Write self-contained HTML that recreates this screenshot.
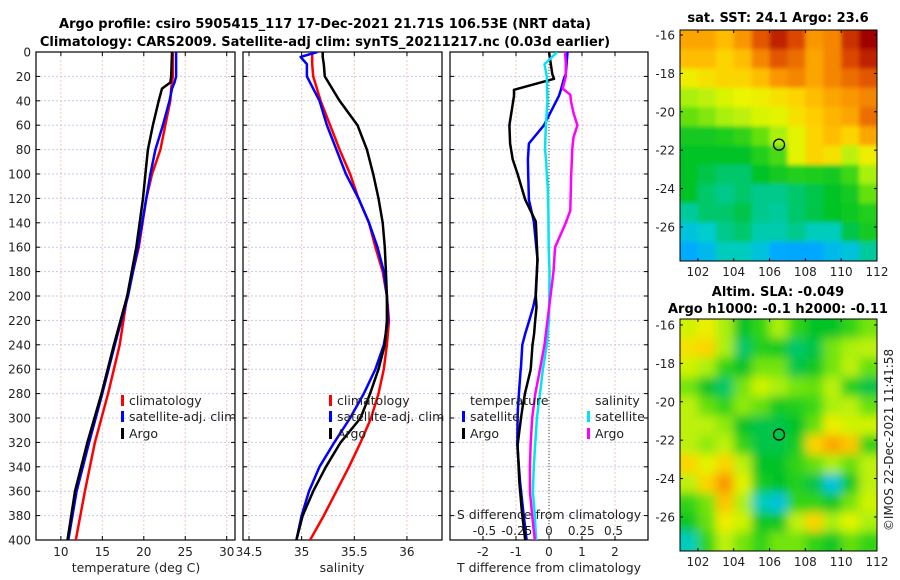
<!DOCTYPE html>
<html><head><meta charset="utf-8"><style>
html,body{margin:0;padding:0;background:#fff}
svg{display:block;font-family:"DejaVu Sans","Liberation Sans",sans-serif}
</style></head><body>
<svg id="fig" width="900" height="580" viewBox="0 0 900 580">
<defs>
<clipPath id="c1"><rect x="36" y="52" width="199" height="488"/></clipPath>
<clipPath id="c2"><rect x="243" y="52" width="199" height="488"/></clipPath>
<clipPath id="c3"><rect x="450" y="52" width="198" height="488"/></clipPath>
<clipPath id="cm1"><rect x="680" y="30" width="197" height="231"/></clipPath>
<clipPath id="cm2"><rect x="680" y="319" width="197" height="232"/></clipPath>
<filter id="blur1"><feGaussianBlur stdDeviation="2"/></filter>
<filter id="blur2"><feGaussianBlur stdDeviation="5"/></filter>
</defs>
<text x="325" y="28" text-anchor="middle" font-weight="bold" font-size="13">Argo profile: csiro 5905415_117 17-Dec-2021 21.71S 106.53E (NRT data)</text>
<text x="325" y="46" text-anchor="middle" font-weight="bold" font-size="13">Climatology: CARS2009. Satellite-adj clim: synTS_20211217.nc (0.03d earlier)</text>
<text x="778" y="22" text-anchor="middle" font-weight="bold" font-size="13">sat. SST: 24.1 Argo: 23.6</text>
<text x="778" y="296" text-anchor="middle" font-weight="bold" font-size="13">Altim. SLA: -0.049</text>
<text x="778" y="313" text-anchor="middle" font-weight="bold" font-size="13">Argo h1000: -0.1 h2000: -0.11</text>
<text transform="translate(893,440) rotate(-90)" text-anchor="middle" font-size="12" fill="#222">©IMOS 22-Dec-2021 11:41:58</text>
<g id="g"></g>
</svg>
<script>
const NS="http://www.w3.org/2000/svg";
const depthTicks=[0,20,40,60,80,100,120,140,160,180,200,220,240,260,280,300,320,340,360,380,400];
const tTicks=[10,15,20,25,30];
const sTicks=[34.5,35,35.5,36];
const sTickLabels=["34.5","35","35.5","36"];
const dTTicks=[-2,-1,0,1,2];
const dSTicks=[-0.5,-0.25,0,0.25,0.5];
const dSTickLabels=["-0.5","-0.25","0","0.25","0.5"];
const lonTicks=[102,104,106,108,110,112];
const latTicks=[-16,-18,-20,-22,-24,-26];

const tempDepth=[0,20,25,30,40,60,80,100,120,160,200,240,280,320,360,400];
const tempClim=[23.5,23.5,23.4,23.3,23.2,22.6,22.0,21.0,20.3,19.4,18.0,17.1,15.7,14.1,12.9,11.8];
const tempSat=[23.9,23.9,23.7,23.4,23.1,22.3,21.4,20.8,20.3,19.3,18.1,16.5,15.0,13.4,11.9,10.9];
const tempArgo=[23.4,23.3,23.2,22.2,21.8,21.1,20.5,20.2,19.9,19.1,18.0,16.4,14.9,13.2,11.7,10.8];

const salDepth=[0,4,10,20,40,60,80,100,120,140,160,180,200,220,240,260,280,300,320,340,360,380,400];
const salClim=[35.10,35.10,35.10,35.11,35.18,35.27,35.36,35.46,35.54,35.64,35.70,35.77,35.81,35.83,35.81,35.78,35.73,35.66,35.56,35.45,35.33,35.21,35.08];
const salSat=[35.15,34.99,35.05,35.05,35.17,35.24,35.33,35.42,35.54,35.64,35.72,35.78,35.81,35.82,35.78,35.70,35.59,35.46,35.31,35.17,35.07,35.00,34.95];
const salArgo=[35.20,35.20,35.21,35.22,35.36,35.53,35.62,35.68,35.73,35.77,35.79,35.80,35.81,35.81,35.79,35.73,35.65,35.56,35.37,35.23,35.11,35.01,34.95];

const dTDepth=[0,18,22,31,36,60,75,88,100,121,139,170,200,209,221,231,240,258,261,279,291,300,322,352,377,400];
const dTSat=[0.56,0.51,0.45,0.36,0.30,-0.15,-0.61,-0.64,-0.63,-0.61,-0.46,-0.35,-0.41,-0.48,-0.61,-0.72,-0.81,-0.85,-0.86,-0.91,-0.94,-0.95,-0.96,-0.88,-0.78,-0.68];
const dTArgo=[0.0,0.1,0.15,-1.06,-1.06,-1.2,-1.18,-1.1,-0.95,-0.72,-0.4,-0.35,-0.4,-0.38,-0.42,-0.45,-0.5,-0.55,-0.56,-0.72,-0.8,-0.85,-0.95,-0.9,-0.82,-0.72];

const dSDepth=[0,10,20,30,35,40,50,60,70,80,90,100,110,130,140,160,180,200,220,240,260,280,300,320,340,360,380,400];
const dSSat=[0.064,-0.035,-0.017,-0.015,-0.014,-0.012,-0.018,-0.024,-0.028,-0.03,-0.022,-0.017,-0.01,-0.005,-0.004,-0.002,0.004,0.002,0,-0.017,-0.047,-0.07,-0.094,-0.106,-0.118,-0.125,-0.11,-0.1];
const dSArgo=[0.125,0.13,0.13,0.106,0.165,0.17,0.19,0.22,0.19,0.18,0.177,0.172,0.17,0.165,0.13,0.047,0.035,0.012,-0.012,-0.035,-0.07,-0.106,-0.13,-0.142,-0.148,-0.148,-0.13,-0.11];

const sstGrid=[
[0.78,0.78,0.75,0.8,0.88,0.95,0.9,0.8,0.82,0.93,1],
[0.75,0.75,0.72,0.75,0.82,0.88,0.85,0.78,0.82,0.9,0.95],
[0.68,0.7,0.72,0.72,0.75,0.8,0.82,0.78,0.82,0.85,0.88],
[0.6,0.62,0.65,0.67,0.68,0.7,0.72,0.75,0.78,0.8,0.82],
[0.55,0.57,0.6,0.62,0.65,0.66,0.7,0.73,0.76,0.78,0.85],
[0.45,0.45,0.47,0.5,0.55,0.6,0.66,0.72,0.75,0.72,0.78],
[0.42,0.42,0.42,0.42,0.48,0.53,0.66,0.72,0.7,0.62,0.68],
[0.42,0.4,0.38,0.38,0.42,0.45,0.48,0.47,0.45,0.52,0.6],
[0.42,0.38,0.36,0.38,0.36,0.36,0.38,0.4,0.42,0.45,0.55],
[0.35,0.38,0.38,0.4,0.36,0.35,0.38,0.4,0.42,0.44,0.48],
[0.3,0.32,0.36,0.38,0.34,0.34,0.36,0.33,0.33,0.4,0.45],
[0.25,0.28,0.33,0.33,0.3,0.25,0.24,0.24,0.28,0.3,0.35]];
const slaGrid=[
[0.64,0.68,0.6,0.42,0.5,0.6,0.5,0.42,0.42,0.5,0.56],
[0.7,0.72,0.6,0.38,0.48,0.45,0.38,0.4,0.56,0.6,0.62],
[0.64,0.6,0.5,0.42,0.56,0.56,0.4,0.44,0.56,0.62,0.55],
[0.56,0.42,0.38,0.56,0.64,0.6,0.56,0.55,0.62,0.48,0.4],
[0.62,0.55,0.5,0.58,0.55,0.45,0.48,0.52,0.6,0.62,0.55],
[0.62,0.62,0.58,0.42,0.4,0.4,0.42,0.55,0.68,0.64,0.64],
[0.62,0.58,0.62,0.5,0.4,0.4,0.46,0.72,0.78,0.74,0.5],
[0.72,0.66,0.72,0.62,0.42,0.42,0.5,0.55,0.6,0.55,0.62],
[0.62,0.72,0.8,0.66,0.46,0.42,0.48,0.4,0.3,0.44,0.62],
[0.5,0.56,0.74,0.6,0.33,0.3,0.5,0.5,0.44,0.56,0.64],
[0.44,0.55,0.68,0.64,0.44,0.44,0.62,0.72,0.6,0.66,0.6],
[0.33,0.5,0.62,0.56,0.5,0.56,0.56,0.5,0.44,0.55,0.5]];
const argoLon=106.53, argoLat=-21.71;

const G=document.getElementById('g');
function el(tag,attrs,parent){const e=document.createElementNS(NS,tag);for(const k in attrs)e.setAttribute(k,attrs[k]);(parent||G).appendChild(e);return e;}
function txt(x,y,s,size,anchor,parent){const t=el('text',{x:x,y:y,'font-size':size,'text-anchor':anchor||'middle',fill:'#222'},parent);t.textContent=s;return t;}

const Y=d=>52+d*488/400;
const panels=[
 {x0:36,x1:235,v0:7,v1:31,clip:'c1',name:'temperature-panel'},
 {x0:243,x1:442,v0:34.443,v1:36.333,clip:'c2',name:'salinity-panel'},
 {x0:450,x1:648,v0:-3,v1:3,clip:'c3',name:'difference-panel'}];
const X=(p,v)=>p.x0+(v-p.v0)*(p.x1-p.x0)/(p.v1-p.v0);
const pS={x0:450,x1:648,v0:-0.7674,v1:0.7674,clip:'c3'};

function gridAndFrame(p,xt){
 const g=el('g',{});
 
 
 depthTicks.forEach(d=>{el('line',{x1:p.x0,x2:p.x1,y1:Y(d),y2:Y(d),stroke:'#c6c9ee','stroke-width':1,'stroke-dasharray':'2,2'},g);
  el('line',{x1:p.x0,x2:p.x0+4,y1:Y(d),y2:Y(d),stroke:'#000'},g);el('line',{x1:p.x1,x2:p.x1-4,y1:Y(d),y2:Y(d),stroke:'#000'},g);});
 xt.forEach(v=>{const x=X(p,v);el('line',{x1:x,x2:x,y1:52,y2:540,stroke:'#eec8bc','stroke-width':1,'stroke-dasharray':'2,2'},g);
  el('line',{x1:x,x2:x,y1:540,y2:536,stroke:'#000'},g);el('line',{x1:x,x2:x,y1:52,y2:56,stroke:'#000'},g);});
 el('rect',{x:p.x0,y:52,width:p.x1-p.x0,height:488,fill:'none',stroke:'#000','stroke-width':1.2},g);
 return g;
}
function line(p,vals,deps,color,w,name){
 const pts=vals.map((v,i)=>X(p,v).toFixed(1)+','+Y(deps[i]).toFixed(1)).join(' ');
 const l=el('polyline',{points:pts,fill:'none',stroke:color,'stroke-width':w,'stroke-linejoin':'round','clip-path':'url(#'+p.clip+')'});
 
 
}
depthTicks.forEach(d=>{txt(31,Y(d)+4.5,String(d),12,'end');});
gridAndFrame(panels[0],tTicks);
tTicks.forEach(v=>txt(X(panels[0],v),556,String(v),12));
line(panels[0],tempClim,tempDepth,'#ff0000',2.5,'temp-climatology-line');
line(panels[0],tempSat,tempDepth,'#0000ff',2.5,'temp-satellite-line');
line(panels[0],tempArgo,tempDepth,'#000',2.5,'temp-argo-line');
txt(136,572,'temperature (deg C)',12.5);
gridAndFrame(panels[1],sTicks);
sTicks.forEach((v,i)=>txt(X(panels[1],v),556,sTickLabels[i],12));
line(panels[1],salClim,salDepth,'#ff0000',2.5,'sal-climatology-line');
line(panels[1],salSat,salDepth,'#0000ff',2.5,'sal-satellite-line');
line(panels[1],salArgo,salDepth,'#000',2.5,'sal-argo-line');
txt(342,572,'salinity',12.5);
gridAndFrame(panels[2],dTTicks);
el('line',{x1:X(panels[2],0),x2:X(panels[2],0),y1:52,y2:540,stroke:'#444','stroke-width':1,'stroke-dasharray':'1,2'});
dTTicks.forEach(v=>txt(X(panels[2],v),556,String(v),12));
line(panels[2],dTSat,dTDepth,'#0000ff',2.5,'dt-satellite-line');
line(panels[2],dTArgo,dTDepth,'#000',2.5,'dt-argo-line');
line(pS,dSSat,dSDepth,'#00e5ee',2.5,'ds-satellite-line');
line(pS,dSArgo,dSDepth,'#ff00ff',2.5,'ds-argo-line');
txt(549,572,'T difference from climatology',12.5);
txt(549,519,'S difference from climatology',12.5);
dSTicks.forEach((v,i)=>txt(X(pS,v),535,dSTickLabels[i],12));
function legItem(x,y,color,label,name){
 const g=el('g',{});
 
 
 el('rect',{x:x,y:y-10,width:3,height:11,fill:color},g);
 txt(x+8,y,label,12.5,'start',g);
}
legItem(121,405,'#ff0000','climatology','legend-climatology');
legItem(121,421,'#0000ff','satellite-adj. clim','legend-satellite-adj');
legItem(121,438,'#000','Argo','legend-argo');
legItem(329,405,'#ff0000','climatology','legend2-climatology');
legItem(329,421,'#0000ff','satellite-adj. clim','legend2-satellite-adj');
legItem(329,438,'#000','Argo','legend2-argo');
txt(470,405,'temperature',12.5,'start');
legItem(462,421,'#0000ff','satellite','legend-t-satellite');
legItem(462,438,'#000','Argo','legend-t-argo');
txt(595,405,'salinity',12.5,'start');
legItem(587,421,'#00e5ee','satellite','legend-s-satellite');
legItem(587,438,'#ff00ff','Argo','legend-s-argo');

function cmap(v){
 const stops=[[0,[0,90,255]],[0.25,[0,170,255]],[0.32,[0,205,205]],[0.42,[0,195,40]],[0.52,[60,215,20]],[0.6,[170,240,10]],[0.67,[235,245,0]],[0.73,[255,205,0]],[0.8,[250,150,0]],[0.9,[220,70,0]],[1,[160,0,0]]];
 for(let i=1;i<stops.length;i++){if(v<=stops[i][0]){const a=stops[i-1],b=stops[i],f=(v-a[0])/(b[0]-a[0]);return 'rgb('+a[1].map((c,j)=>Math.round(c+(b[1][j]-c)*f)).join(',')+')';}}
 return 'rgb(160,0,0)';
}
function map(grid,top,bot,clip,filt,name,latTop){
 const x0=680,x1=877,lon0=101,lon1=112;
 const MX=lon=>x0+(lon-lon0)*(x1-x0)/(lon1-lon0);
 const MY=lat=>top+(latTop-lat)*19.2;
 const g=el('g',{});
 
 
 const inner=el('g',{'clip-path':'url(#'+clip+')'},g);
 const cells=el('g',{filter:'url(#'+filt+')'},inner);
 const nr=grid.length,nc=grid[0].length;
 const cw=(x1-x0)/nc,ch=(bot-top)/nr;
 for(let r=-1;r<=nr;r++)for(let c=-1;c<=nc;c++){
  const rr=Math.min(nr-1,Math.max(0,r)),cc=Math.min(nc-1,Math.max(0,c));
  const rc=el('rect',{x:x0+c*cw,y:top+r*ch,width:cw+0.5,height:ch+0.5,fill:cmap(grid[rr][cc])},cells);
  
  
 }
 el('rect',{x:x0,y:top,width:x1-x0,height:bot-top,fill:'none',stroke:'#000','stroke-width':1},g);
 lonTicks.forEach(l=>{const x=MX(l);el('line',{x1:x,x2:x,y1:bot,y2:bot-3,stroke:'#000'},g);el('line',{x1:x,x2:x,y1:top,y2:top+3,stroke:'#000'},g);txt(x,bot+15,String(l),12,'middle',g);});
 latTicks.forEach(l=>{const y=MY(l);el('line',{x1:x0,x2:x0+3,y1:y,y2:y,stroke:'#000'},g);el('line',{x1:x1,x2:x1-3,y1:y,y2:y,stroke:'#000'},g);txt(x0-5,y+4.5,String(l),12,'end',g);});
 const m=el('circle',{cx:MX(argoLon),cy:MY(argoLat),r:5.5,fill:'none',stroke:'#000','stroke-width':1.3},g);
 
 
}
map(sstGrid,30,261,'cm1','blur1','sst-map',-15.74);
map(slaGrid,319,551,'cm2','blur2','sla-map',-15.69);
</script>
</body></html>
